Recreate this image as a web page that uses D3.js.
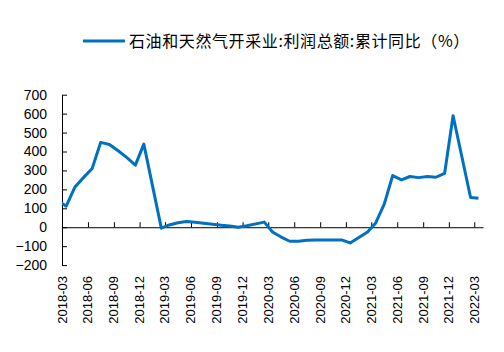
<!DOCTYPE html>
<html>
<head>
<meta charset="utf-8">
<script src="https://cdn.jsdelivr.net/npm/d3@7"></script>
<style>
  html, body { margin: 0; padding: 0; background: #fff; }
  svg { display: block; }
</style>
</head>
<body>
<svg id="chart" width="504" height="352"></svg>
<script>
const seriesName = "石油和天然气开采业:利润总额:累计同比（%）";
const months = [
  "2018-02","2018-03","2018-04","2018-05","2018-06","2018-07","2018-08","2018-09","2018-10","2018-11","2018-12",
  "2019-02","2019-03","2019-04","2019-05","2019-06","2019-07","2019-08","2019-09","2019-10","2019-11","2019-12",
  "2020-02","2020-03","2020-04","2020-05","2020-06","2020-07","2020-08","2020-09","2020-10","2020-11","2020-12",
  "2021-02","2021-03","2021-04","2021-05","2021-06","2021-07","2021-08","2021-09","2021-10","2021-11","2021-12",
  "2022-02","2022-03"
];
const values = [
  140, 111, 213, 262, 310, 448, 437, 404, 369, 328, 439,
  -5, 12, 24, 30, 26, 21, 16, 11, 7, 0, 8,
  27, -25, -52, -74, -74, -69, -68, -67, -67, -67, -83,
  -25, 21, 122, 273, 250, 268, 262, 268, 264, 285, 589,
  157, 153
];
const yTicks = [-200, -100, 0, 100, 200, 300, 400, 500, 600, 700];
const xTickLabels = [
  "2018-03","2018-06","2018-09","2018-12","2019-03","2019-06","2019-09","2019-12",
  "2020-03","2020-06","2020-09","2020-12","2021-03","2021-06","2021-09","2021-12","2022-03"
];

const parseMonth = d3.timeParse("%Y-%m");
const midMonth = s => { const d = parseMonth(s); return new Date(d.getFullYear(), d.getMonth(), 16); };
const data = months.map((m, i) => ({ date: midMonth(m), value: values[i] }));

const svg = d3.select("#chart");
const plotLeft = 62, plotRight = 483, plotTop = 94.7, plotBottom = 265.1;

const x = d3.scaleTime()
  .domain([parseMonth("2018-03"), parseMonth("2022-04")])
  .range([plotLeft, plotRight]);
const y = d3.scaleLinear().domain([-200, 700]).range([plotBottom, plotTop]);

const axisFont = "'Liberation Sans', Arial, sans-serif";

// clip
svg.append("defs").append("clipPath").attr("id", "plotClip")
  .append("rect").attr("x", plotLeft).attr("y", 0).attr("width", plotRight - plotLeft).attr("height", 352);

// Y axis
const yAxis = svg.append("g").attr("transform", `translate(${plotLeft},0)`)
  .call(d3.axisRight(y).tickValues(yTicks).tickSize(5).tickSizeOuter(0).tickFormat(d3.format("d")));
yAxis.select(".domain").attr("stroke", "#000").attr("stroke-width", 1);
yAxis.selectAll(".tick line").attr("stroke", "#000");
yAxis.selectAll(".tick text")
  .attr("x", -15).attr("text-anchor", "end")
  .style("font-family", axisFont).style("font-size", "14px").attr("fill", "#000");

// X axis at zero
const xAxis = svg.append("g").attr("transform", `translate(0,${y(0)})`)
  .call(d3.axisTop(x).tickValues(xTickLabels.map(parseMonth)).tickSize(5).tickSizeOuter(0).tickFormat(""));
xAxis.select(".domain").attr("stroke", "#000").attr("stroke-width", 1);
xAxis.selectAll(".tick line").attr("stroke", "#000");

// X labels at bottom, rotated
svg.append("g").selectAll("text").data(xTickLabels).join("text")
  .attr("transform", d => `translate(${x(parseMonth(d)) + 4.5},276) rotate(-90)`)
  .attr("text-anchor", "end")
  .style("font-family", axisFont).style("font-size", "13px").attr("fill", "#000")
  .text(d => d);

// Line
const line = d3.line().x(d => x(d.date)).y(d => y(d.value));
svg.append("path").datum(data)
  .attr("clip-path", "url(#plotClip)")
  .attr("fill", "none").attr("stroke", "#0070C0").attr("stroke-width", 3)
  .attr("stroke-linejoin", "round")
  .attr("d", line);

// Legend
const lg = svg.append("g");
lg.append("line").attr("x1", 83).attr("x2", 125).attr("y1", 41).attr("y2", 41)
  .attr("stroke", "#0070C0").attr("stroke-width", 3);
lg.append("text").attr("x", 129).attr("y", 41).attr("dy", "0.36em")
  .style("font-family", "'Noto Sans CJK SC', sans-serif").style("font-size", "16px")
  .style("letter-spacing", "0.6px").attr("fill", "#000")
  .text(seriesName);
</script>
</body>
</html>
